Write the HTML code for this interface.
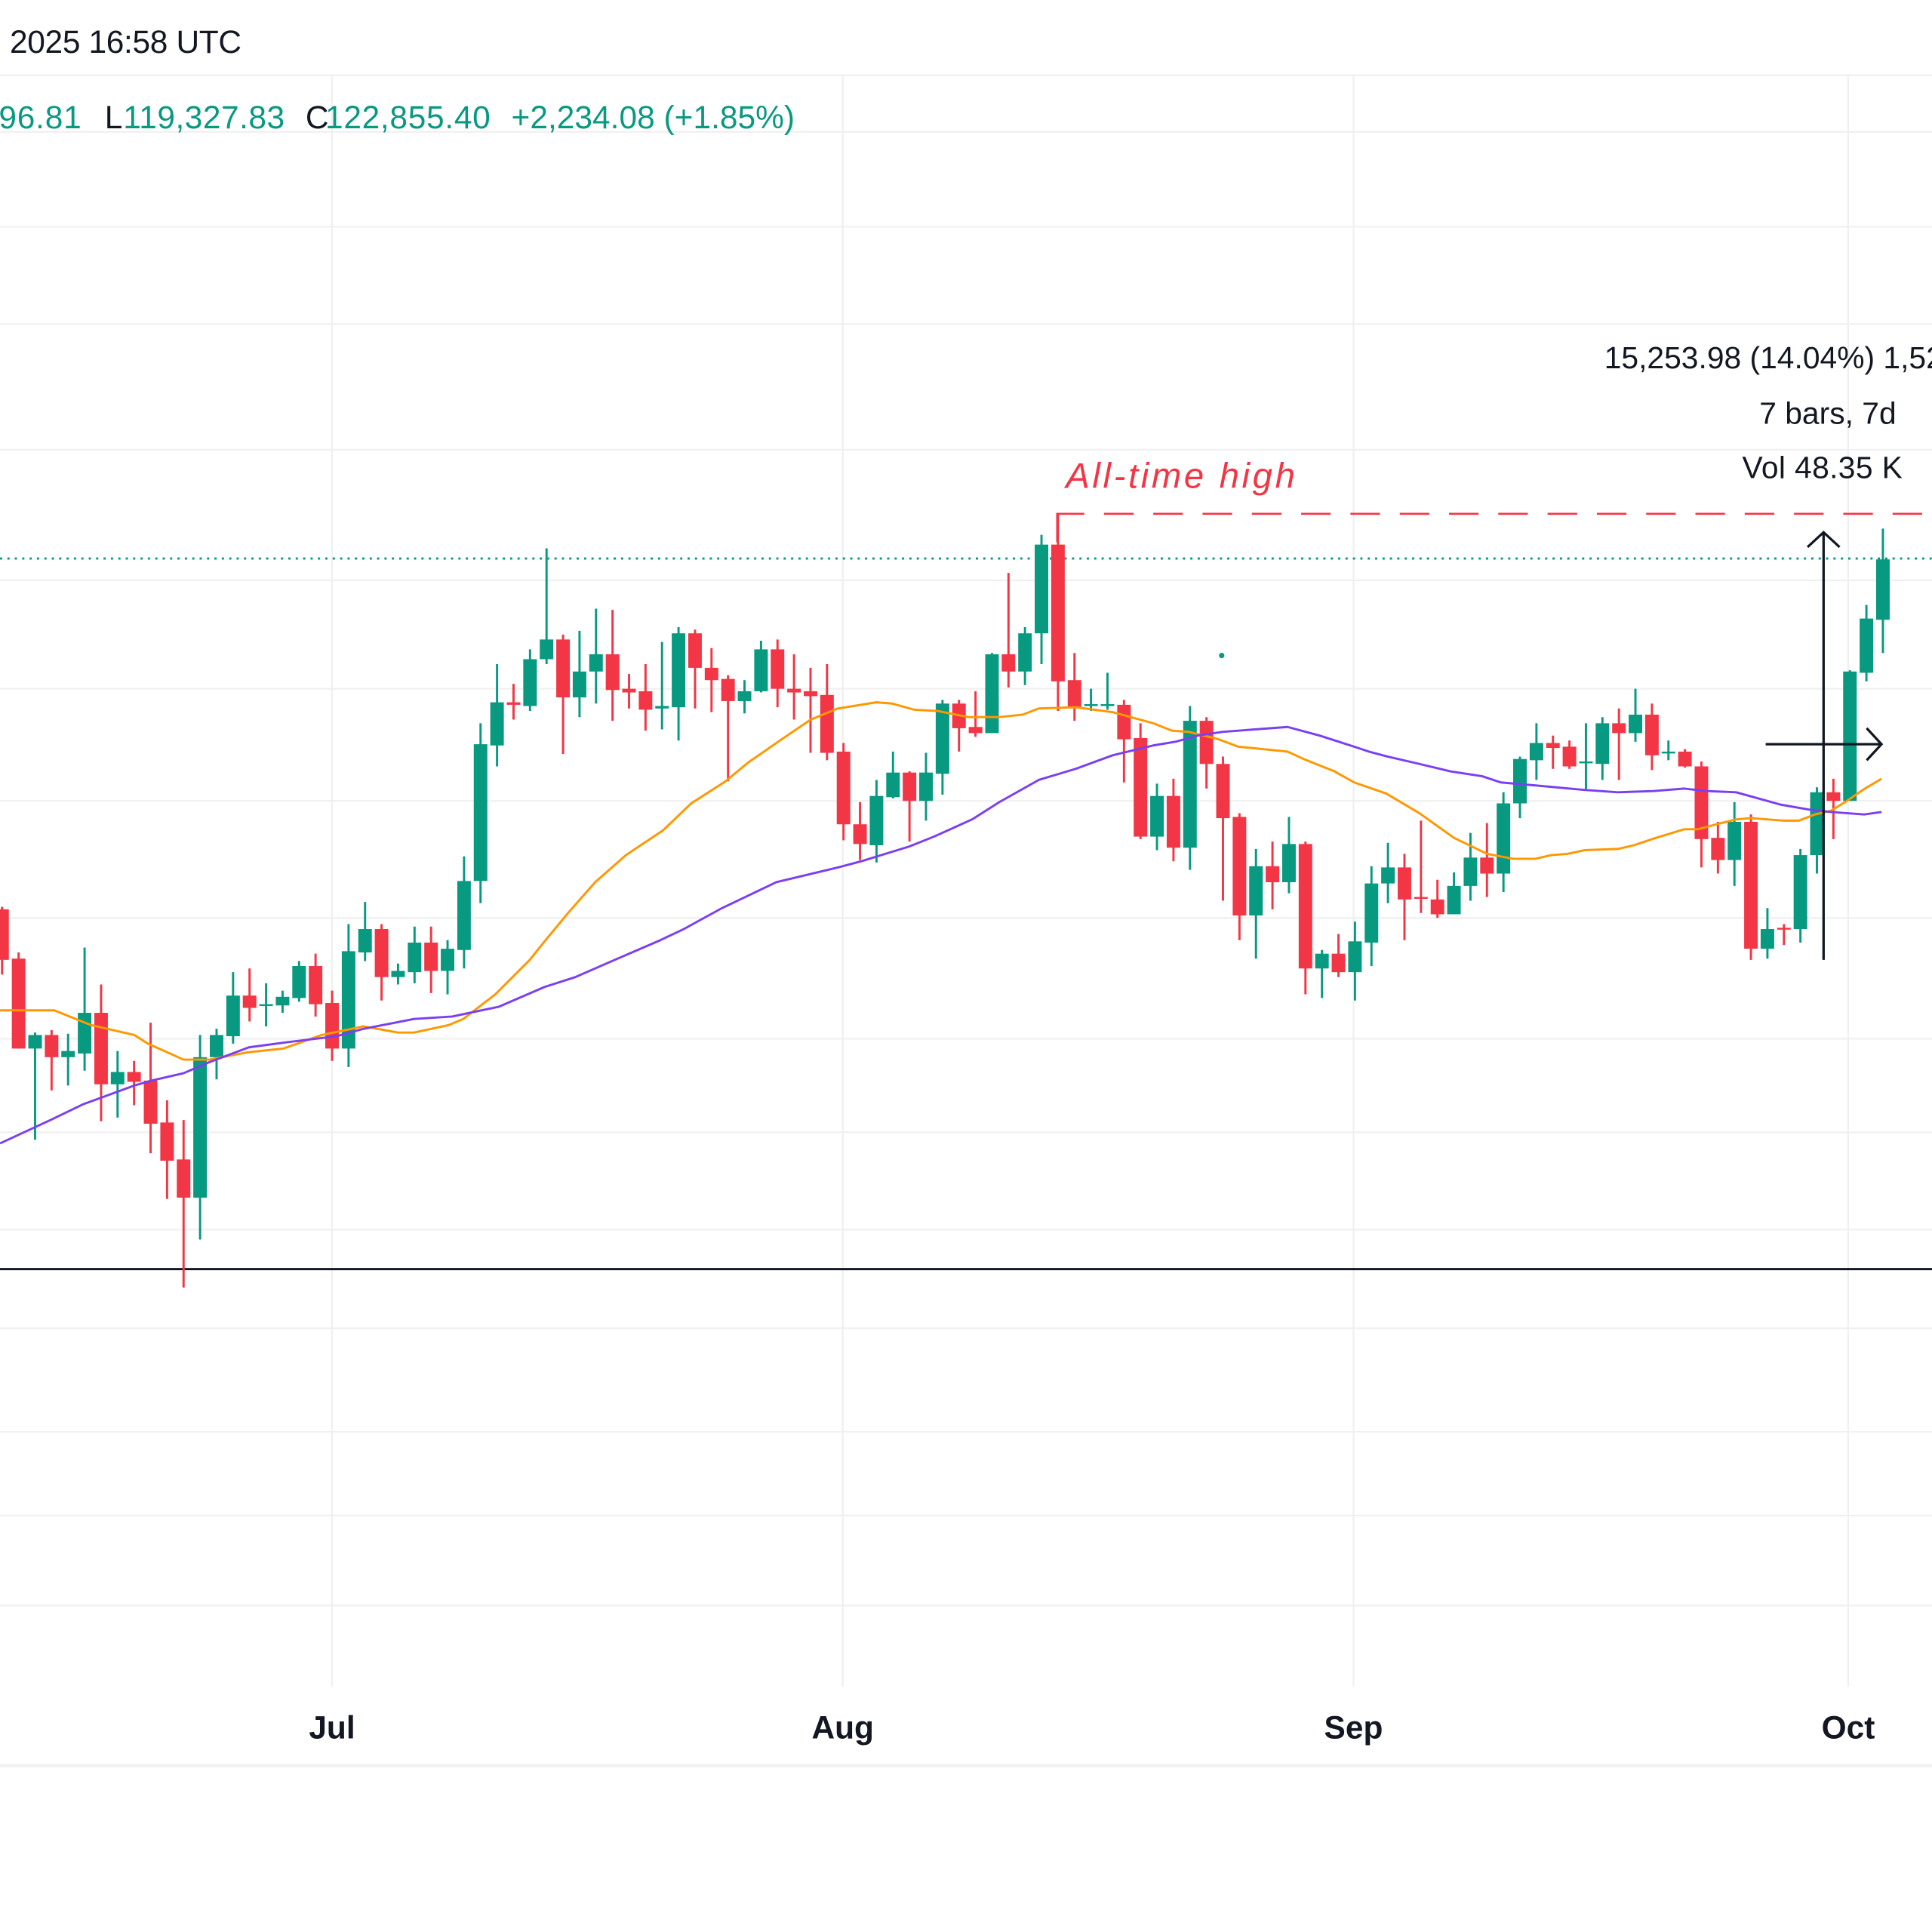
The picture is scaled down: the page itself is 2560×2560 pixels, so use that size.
<!DOCTYPE html>
<html><head><meta charset="utf-8">
<style>
html,body{margin:0;padding:0;background:#fff;}
svg{display:block;}
text{font-family:"Liberation Sans",sans-serif;}
</style></head>
<body>
<svg id="c" xmlns="http://www.w3.org/2000/svg" width="2560" height="2560" viewBox="0 0 1568 1568">
<rect width="1568" height="1568" fill="#fff"/>
<g stroke="#f0f0f0" stroke-width="1.4" fill="none">
<line x1="0" y1="61" x2="1568" y2="61"/>
<line x1="0" y1="107" x2="1568" y2="107"/>
<line x1="0" y1="184" x2="1568" y2="184"/>
<line x1="0" y1="263" x2="1568" y2="263"/>
<line x1="0" y1="365" x2="1568" y2="365"/>
<line x1="0" y1="471" x2="1568" y2="471"/>
<line x1="0" y1="559" x2="1568" y2="559"/>
<line x1="0" y1="650" x2="1568" y2="650"/>
<line x1="0" y1="745" x2="1568" y2="745"/>
<line x1="0" y1="843" x2="1568" y2="843"/>
<line x1="0" y1="919" x2="1568" y2="919"/>
<line x1="0" y1="998" x2="1568" y2="998"/>
<line x1="0" y1="1078" x2="1568" y2="1078"/>
<line x1="0" y1="1162" x2="1568" y2="1162"/>
<line x1="0" y1="1230" x2="1568" y2="1230"/>
<line x1="0" y1="1303" x2="1568" y2="1303"/>
<line x1="269.5" y1="61" x2="269.5" y2="1369"/>
<line x1="684" y1="61" x2="684" y2="1369"/>
<line x1="1098.5" y1="61" x2="1098.5" y2="1369"/>
<line x1="1500" y1="61" x2="1500" y2="1369"/>
<line x1="0" y1="1433" x2="1568" y2="1433" stroke-width="2.5"/>
</g>
<line x1="0" y1="1030" x2="1568" y2="1030" stroke="#131722" stroke-width="1.8"/>
<line x1="0" y1="453.3" x2="1568" y2="453.3" stroke="#089981" stroke-width="1.8" stroke-dasharray="1.8 4.2"/>
<path d="M858 440 V417 H1568" stroke="#f23645" stroke-width="1.6" fill="none"/>
<line x1="864" y1="417" x2="1568" y2="417" stroke="#fff" stroke-width="3" stroke-dasharray="16 24" stroke-dashoffset="-16"/>
<text x="865" y="396" font-size="29" font-style="italic" fill="#f23645" textLength="186">All-time high</text>
<g id="cd"></g>
<polyline fill="none" stroke="#ff9800" stroke-width="1.8" stroke-linejoin="round" points="0,820 44,820 74,832 109,840 120,847 149,860 170,860 201,854 230,851 261,840 295,833 323,838 336,838 364,832 376,827 402,807 430,779 442,764 461,741 483,716 508,694 538,674 561,652 589,634 607,619 633,601 658,584 680,575 711,570 724,571 742,576 761,577 786,582 811,582 830,580 843,575 873,574 903,578 936,587 951,593 965,594 989,600 1005,606 1045,610 1058,616 1083,626 1099,635 1125,644 1152,660 1180,680 1207,693 1228,697 1246,697 1259,694 1272,693 1286,690 1313,689 1326,686 1344,680 1367,673 1378,673 1393,669 1409,665 1421,664 1447,666 1460,666 1473,661 1486,658 1499,650 1512,641 1527,632"/>
<polyline fill="none" stroke="#7b3ff2" stroke-width="1.8" stroke-linejoin="round" points="0,928 41,909 68,896 109,881 123,877 149,871 170,862 202,850 232,846 273,841 295,835 336,827 367,825 405,817 442,801 467,793 499,779 536,763 555,754 586,737 630,716 680,704 699,699 738,687 758,679 789,665 811,651 843,633 873,624 903,613 936,605 954,602 972,597 992,594 1005,593 1045,590 1071,597 1099,606 1111,610 1126,614 1152,620 1177,626 1203,630 1218,635 1241,637 1285,641 1313,643 1342,642 1367,640 1385,642 1409,643 1427,648 1445,653 1468,657 1486,659 1513,661 1527,659"/>
<circle cx="991.5" cy="532" r="2.2" fill="#089981"/>
<g stroke="#131722" stroke-width="2" fill="none">
<line x1="1480" y1="432" x2="1480" y2="779"/>
<polyline points="1467,444 1480,432 1493,444"/>
<line x1="1433" y1="604" x2="1527" y2="604"/>
<polyline points="1515,591 1527,604 1515,617"/>
</g>
<g font-size="25" fill="#131722">
<text x="1302" y="299">15,253.98 (14.04%) 1,526.00</text>
<text x="1539" y="344" text-anchor="end">7 bars, 7d</text>
<text x="1414" y="388" textLength="130">Vol 48.35 K</text>
</g>
<text x="8" y="43" font-size="26" fill="#131722" textLength="188">2025 16:58 UTC</text>
<g font-size="26">
<text x="-1" y="104" fill="#089981" textLength="67">96.81</text>
<text x="85" y="104" fill="#131722">L</text>
<text x="100" y="104" fill="#089981" textLength="131">119,327.83</text>
<text x="248" y="104" fill="#131722">C</text>
<text x="264" y="104" fill="#089981" textLength="134">122,855.40</text>
<text x="415" y="104" fill="#089981" textLength="230">+2,234.08 (+1.85%)</text>
</g>
<g font-size="26" font-weight="bold" fill="#131722" text-anchor="middle">
<text x="269.5" y="1411">Jul</text>
<text x="684" y="1411">Aug</text>
<text x="1098.5" y="1411">Sep</text>
<text x="1500" y="1411">Oct</text>
</g>
</svg>
<script>
var D=[[-20,738,736,791,779],[-19,778,773,851,851],[-18,851,838,925,840],[-17,840,836,885,858],[-16,858,839,881,853],[-15,855,769,869,822],[-14,822,799,910,880],[-13,880,853,907,870],[-12,870,861,897,878],[-11,877,830,936,912],[-10,911,893,973,942],[-9,941,909,1045,972],[-8,972,840,1006,858],[-7,858,835,876,840],[-6,841,789,847,808],[-5,808,786,829,818],[-4,816,798,833,815],[-3,816,804,822,809],[-2,810,780,813,784],[-1,784,774,825,815],[0,814,804,861,851],[1,851,750,866,772],[2,773,732,780,754],[3,754,750,812,793],[4,793,782,799,788],[5,789,752,798,765],[6,765,752,806,788],[7,788,763,807,770],[8,771,695,786,715],[9,715,587,733,604],[10,605,539,622,570],[11,570,555,584,572],[12,573,527,577,535],[13,535,445,539,519],[14,519,515,612,566],[15,566,512,582,545],[16,545,494,571,531],[17,531,495,585,560],[18,559,547,575,562],[19,561,539,593,576],[20,575,521,592,573],[21,574,509,601,514],[22,514,511,575,542],[23,542,526,578,552],[24,551,548,634,569],[25,569,552,579,561],[26,561,520,562,527],[27,527,519,574,559],[28,559,531,584,562],[29,561,542,611,565],[30,564,539,617,611],[31,610,603,682,669],[32,669,651,698,685],[33,686,633,700,646],[34,647,610,648,627],[35,627,626,683,650],[36,650,611,666,627],[37,628,568,645,571],[38,571,568,610,591],[39,590,561,598,595],[40,595,530,595,531],[41,531,465,558,545],[42,545,509,556,514],[43,514,434,539,442],[44,442,417,577,553],[45,552,530,585,574],[46,572,559,577,571.5],[47,572,546,576,571.5],[48,572,568,635,600],[49,599,587,681,679],[50,679,636,690,646],[51,646,632,699,688],[52,688,573,706,585],[53,585,582,640,620],[54,620,614,731,664],[55,663,660,763,743],[56,743,689,778,703],[57,703,683,738,716],[58,716,663,725,685],[59,685,683,807,786],[60,786,771,810,774],[61,774,758,793,789],[62,789,748,812,764],[63,765,703,784,717],[64,717,684,733,704],[65,704,693,763,730],[66,728,666,741,729],[67,730,714,745,742],[68,742,708,742,719],[69,719,676,731,696],[70,696,668,728,709],[71,709,643,724,652],[72,652,614,664,616],[73,617,587,633,603],[74,603,597,624,607],[75,606,601,624,622],[76,619,587,641,618],[77,620,582,633,587],[78,587,575,633,595],[79,595,559,602,580],[80,580,571,625,613],[81,611,601,617,610],[82,610,608,623,622],[83,622,618,704,681],[84,680,667,709,698],[85,698,651,719,667],[86,667,661,779,770],[87,770,737,778,754],[88,753,750,767,754],[89,754,689,765,694],[90,694,639,709,643],[91,643,632,681,650],[92,650,544,650,545],[93,546,491,553,502],[94,503,429,530,454]];
var g=document.getElementById('cd'),s='';
D.forEach(function(d){var x=269.5+d[0]*13.39,o=d[1],h=d[2],l=d[3],c=d[4];
var up=c<=o,col=up?'#089981':'#f23645',t=Math.min(o,c),b=Math.max(o,c);if(b-t<1.5){b=t+1.5;}
s+='<line x1="'+x+'" y1="'+h+'" x2="'+x+'" y2="'+l+'" stroke="'+col+'" stroke-width="1.8"/>';
s+='<rect x="'+(x-5.5)+'" y="'+t+'" width="11" height="'+(b-t)+'" fill="'+col+'"/>';});
g.innerHTML=s;
</script>
</body></html>
